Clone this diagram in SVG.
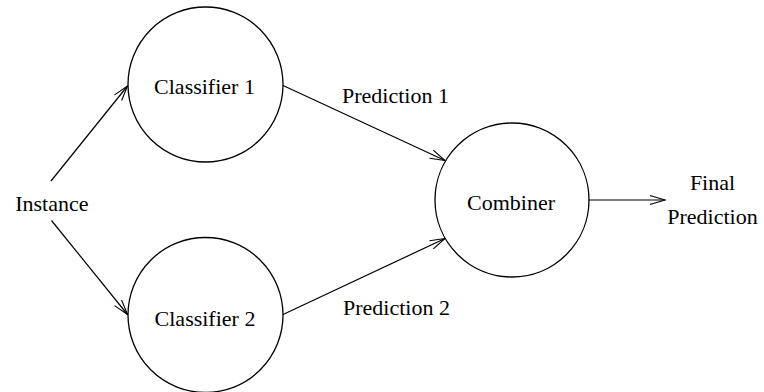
<svg xmlns="http://www.w3.org/2000/svg" width="764" height="392" viewBox="0 0 764 392">
<style>
.node{fill:#fff;stroke:#000;stroke-width:1.3}
.lbl{font-family:"Liberation Serif","Times New Roman",serif;font-size:22px;fill:#000;text-anchor:middle}
.edge{stroke:#000;stroke-width:1.2;fill:none;marker-end:url(#arr)}
</style>
<defs>
<marker id="arr" markerUnits="userSpaceOnUse" markerWidth="14" markerHeight="12" viewBox="-12 -6 14 12" refX="0" refY="0" orient="auto" overflow="visible">
<path d="M-15,-4.5 L0,0 L-15,4.5" fill="none" stroke="#000" stroke-width="1.1"/>
</marker>
</defs>
<rect width="764" height="392" fill="#fff"/>
<g id="connectors">
<line class="edge" x1="51" y1="181" x2="127.5" y2="86"/>
<line class="edge" x1="51.5" y1="220.5" x2="127.5" y2="314.5"/>
<line class="edge" x1="282" y1="85" x2="445" y2="160.5"/>
<line class="edge" x1="282" y1="315" x2="445" y2="238.5"/>
<line class="edge" x1="589" y1="200" x2="665" y2="200"/>
</g>
<g id="instance"><text class="lbl" x="51.8" y="211">Instance</text></g>
<g id="classifier1"><circle class="node" cx="205.5" cy="84.5" r="77.5"/><text class="lbl" x="204.5" y="94">Classifier 1</text></g>
<g id="classifier2"><circle class="node" cx="205.5" cy="315" r="77.5"/><text class="lbl" x="205" y="326">Classifier 2</text></g>
<g id="combiner"><circle class="node" cx="512" cy="200" r="77"/><text class="lbl" x="511" y="210">Combiner</text></g>
<g id="label-pred1"><text class="lbl" x="395.5" y="103">Prediction 1</text></g>
<g id="label-pred2"><text class="lbl" x="396.5" y="315">Prediction 2</text></g>
<g id="final"><text class="lbl" x="712.5" y="190">Final</text><text class="lbl" x="712.5" y="224">Prediction</text></g>
</svg>
